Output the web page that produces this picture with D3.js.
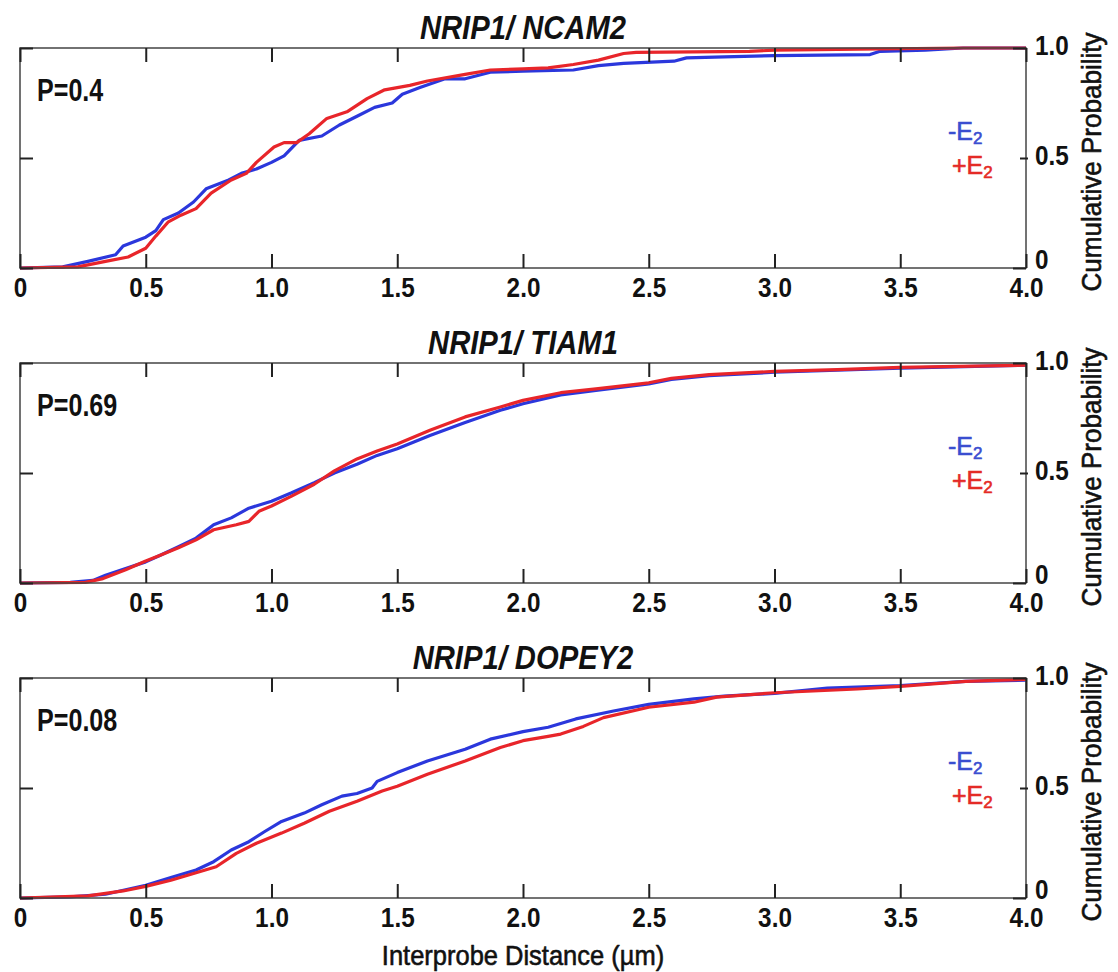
<!DOCTYPE html>
<html>
<head>
<meta charset="utf-8">
<script src="https://cdn.jsdelivr.net/npm/d3@7"></script>
<style>
  html, body { margin: 0; padding: 0; background: #fff; }
  svg { display: block; }
  text { font-family: "Liberation Sans", Arial, Helvetica, sans-serif; }
</style>
</head>
<body>
<svg id="chart" width="1118" height="972"></svg>
<script>
// ---- Data: cumulative probability of interprobe distance (µm) ----
const panelTitles = ["NRIP1/ NCAM2", "NRIP1/ TIAM1", "NRIP1/ DOPEY2"];
const pLabels = ["P=0.4", "P=0.69", "P=0.08"];
const xTickValues = [0, 0.5, 1.0, 1.5, 2.0, 2.5, 3.0, 3.5, 4.0];
const yTickValues = [0, 0.5, 1.0];
const seriesLabels = ["-E", "+E"];
const xAxisTitle = "Interprobe Distance (µm)";
const yAxisTitle = "Cumulative Probability";

// [distance, cumulative probability]
const ncam2Minus = [[0,0],[0.17,0.005],[0.27,0.03],[0.38,0.06],[0.41,0.10],[0.5,0.14],[0.54,0.17],[0.57,0.22],[0.63,0.25],[0.69,0.30],[0.74,0.36],[0.83,0.40],[0.88,0.43],[0.94,0.45],[1.0,0.48],[1.05,0.51],[1.11,0.58],[1.20,0.60],[1.27,0.65],[1.34,0.69],[1.41,0.73],[1.48,0.75],[1.52,0.79],[1.59,0.82],[1.69,0.86],[1.77,0.86],[1.87,0.89],[2.0,0.895],[2.2,0.90],[2.3,0.92],[2.4,0.93],[2.6,0.94],[2.65,0.955],[2.8,0.96],[3.0,0.965],[3.38,0.97],[3.42,0.985],[3.6,0.99],[3.75,1.0],[4.0,1.0]];
const ncam2Plus = [[0,0],[0.23,0.005],[0.34,0.03],[0.43,0.05],[0.5,0.09],[0.54,0.145],[0.59,0.21],[0.64,0.24],[0.70,0.27],[0.76,0.34],[0.84,0.40],[0.90,0.43],[0.94,0.48],[1.01,0.55],[1.05,0.57],[1.10,0.57],[1.15,0.61],[1.22,0.68],[1.30,0.71],[1.38,0.77],[1.45,0.81],[1.55,0.83],[1.62,0.85],[1.77,0.88],[1.87,0.90],[2.0,0.905],[2.1,0.91],[2.2,0.925],[2.3,0.945],[2.4,0.975],[2.45,0.98],[2.9,0.985],[3.0,0.99],[3.75,1.0],[4.0,1.0]];

const tiam1Minus = [[0,0],[0.2,0.003],[0.29,0.012],[0.34,0.035],[0.42,0.066],[0.5,0.096],[0.56,0.127],[0.63,0.165],[0.70,0.204],[0.77,0.265],[0.84,0.296],[0.91,0.34],[1.0,0.372],[1.08,0.41],[1.17,0.456],[1.25,0.50],[1.34,0.54],[1.42,0.58],[1.5,0.61],[1.63,0.67],[1.77,0.73],[1.91,0.785],[2.0,0.815],[2.15,0.855],[2.29,0.875],[2.5,0.905],[2.59,0.925],[2.74,0.942],[3.0,0.958],[3.25,0.967],[3.5,0.977],[4.0,0.99]];
const tiam1Plus = [[0,0],[0.26,0.003],[0.33,0.02],[0.42,0.06],[0.5,0.10],[0.56,0.127],[0.63,0.16],[0.70,0.196],[0.77,0.242],[0.86,0.265],[0.91,0.28],[0.95,0.326],[1.0,0.35],[1.08,0.395],[1.17,0.449],[1.25,0.51],[1.34,0.564],[1.42,0.60],[1.5,0.632],[1.63,0.694],[1.77,0.755],[1.91,0.80],[2.0,0.83],[2.15,0.865],[2.29,0.882],[2.5,0.91],[2.59,0.93],[2.74,0.947],[3.0,0.962],[3.25,0.97],[3.5,0.98],[4.0,0.99]];

const dopey2Minus = [[0,0],[0.2,0.005],[0.34,0.017],[0.5,0.058],[0.6,0.093],[0.70,0.127],[0.77,0.165],[0.84,0.218],[0.91,0.256],[0.97,0.30],[1.04,0.348],[1.13,0.386],[1.2,0.424],[1.28,0.463],[1.34,0.475],[1.40,0.50],[1.42,0.53],[1.5,0.57],[1.62,0.623],[1.77,0.676],[1.87,0.722],[2.0,0.756],[2.1,0.776],[2.21,0.814],[2.36,0.85],[2.5,0.88],[2.68,0.905],[2.8,0.918],[3.0,0.93],[3.21,0.954],[3.5,0.966],[3.76,0.985],[4.0,0.99]];
const dopey2Plus = [[0,0],[0.27,0.01],[0.41,0.032],[0.5,0.053],[0.6,0.081],[0.70,0.115],[0.78,0.142],[0.86,0.203],[0.94,0.249],[1.04,0.295],[1.13,0.34],[1.23,0.394],[1.34,0.44],[1.44,0.486],[1.5,0.508],[1.62,0.562],[1.77,0.623],[1.91,0.684],[2.0,0.715],[2.1,0.735],[2.15,0.745],[2.24,0.78],[2.32,0.82],[2.5,0.867],[2.68,0.89],[2.77,0.913],[3.0,0.933],[3.33,0.95],[3.5,0.962],[3.76,0.985],[4.0,0.994]];

const panels = [
  { title: panelTitles[0], p: pLabels[0], minus: ncam2Minus, plus: ncam2Plus },
  { title: panelTitles[1], p: pLabels[1], minus: tiam1Minus, plus: tiam1Plus },
  { title: panelTitles[2], p: pLabels[2], minus: dopey2Minus, plus: dopey2Plus }
];

// ---- Layout ----
const plotLeft = 20;
const W = 1006, H = 220;
const panelTops = [48, 363, 678];
const blue = "#2b37dc", red = "#e8252a";
const legendBlue = "#3a4ed0", legendRed = "#e42a26";

const svg = d3.select("#chart");
const x = d3.scaleLinear().domain([0, 4]).range([0, W]);
const y = d3.scaleLinear().domain([0, 1]).range([H, 0]);
const fmt = d => d === 0 ? "0" : d3.format(".1f")(d);
const line = d3.line().x(d => x(d[0])).y(d => y(d[1]));

// Horizontally condense text to a narrow face
function squeeze(sel, k) {
  sel.each(function () {
    const w = this.getComputedTextLength();
    this.setAttribute("textLength", (w * k).toFixed(1));
    this.setAttribute("lengthAdjust", "spacingAndGlyphs");
  });
}

// Give regular-weight text a slightly heavier (medium) look
function medium(sel, color) {
  sel.attr("stroke", color).attr("stroke-width", 0.6).attr("stroke-linejoin", "round");
}

function styleTicks(axisG) {
  axisG.select(".domain").remove();
  axisG.selectAll(".tick line").attr("stroke", "#222").attr("stroke-width", 2);
}

panels.forEach((panel, i) => {
  const g = svg.append("g").attr("transform", `translate(${plotLeft},${panelTops[i]})`);

  // curves
  g.append("path").datum(panel.minus).attr("d", line)
    .attr("fill", "none").attr("stroke", blue).attr("stroke-width", 3.2)
    .attr("stroke-linejoin", "round");
  g.append("path").datum(panel.plus).attr("d", line)
    .attr("fill", "none").attr("stroke", red).attr("stroke-width", 3.2)
    .attr("stroke-linejoin", "round");

  // frame
  g.append("rect").attr("x", 0).attr("y", 0).attr("width", W).attr("height", H)
    .attr("fill", "none").attr("stroke", "#444").attr("stroke-width", 1.5);

  // bottom axis with labels
  const bottom = g.append("g").attr("transform", `translate(0,${H})`)
    .call(d3.axisBottom(x).tickValues(xTickValues).tickSizeInner(-14).tickSizeOuter(0)
      .tickPadding(10).tickFormat(fmt));
  styleTicks(bottom);
  const bt = bottom.selectAll(".tick text")
    .attr("font-size", 27).attr("font-weight", "bold").attr("fill", "#111");
  squeeze(bt, 0.9);

  // top axis (ticks only)
  const top = g.append("g")
    .call(d3.axisTop(x).tickValues(xTickValues).tickSizeInner(-14).tickSizeOuter(0).tickFormat(""));
  styleTicks(top);

  // left axis (ticks only)
  const left = g.append("g")
    .call(d3.axisLeft(y).tickValues(yTickValues).tickSizeInner(-13).tickSizeOuter(0).tickFormat(""));
  styleTicks(left);

  // right axis with labels
  const right = g.append("g").attr("transform", `translate(${W},0)`)
    .call(d3.axisRight(y).tickValues(yTickValues).tickSizeInner(-13).tickSizeOuter(0)
      .tickPadding(9).tickFormat(fmt));
  styleTicks(right);
  right.selectAll(".tick line").filter(d => d === 0.5).attr("x1", 2).attr("x2", -6);
  const rt = right.selectAll(".tick text")
    .attr("font-size", 27).attr("font-weight", "bold").attr("fill", "#111")
    .attr("y", d => d === 0 ? -8 : -2);
  squeeze(rt, 0.9);

  // title
  const t = g.append("text").attr("x", W / 2).attr("y", -9)
    .attr("text-anchor", "middle").attr("font-size", 33)
    .attr("font-weight", "bold").attr("font-style", "italic").attr("fill", "#111")
    .text(panel.title);
  squeeze(t, 0.885);

  // P value
  const p = g.append("text").attr("x", 17).attr("y", 53)
    .attr("font-size", 31).attr("font-weight", "bold").attr("fill", "#111")
    .text(panel.p);
  squeeze(p, 0.81);

  // legend
  const legendRows = [
    { label: seriesLabels[0], color: legendBlue, dx: -78, dy: 92 },
    { label: seriesLabels[1], color: legendRed, dx: -74, dy: 126 }
  ];
  legendRows.forEach(r => {
    const lt = g.append("text").attr("x", W + r.dx).attr("y", r.dy)
      .attr("font-size", 25).attr("fill", r.color);
    lt.append("tspan").text(r.label);
    lt.append("tspan").attr("font-size", 17).attr("dy", 4).text("2");
    medium(lt, r.color);
  });

  // y axis title on the right
  const yt = g.append("text")
    .attr("transform", `translate(${W + 75},${H / 2 + 4}) rotate(-90)`)
    .attr("text-anchor", "middle").attr("font-size", 28).attr("fill", "#111")
    .text(yAxisTitle);
  squeeze(yt, 0.93);
  medium(yt, "#111");
});

// shared x axis title
const xt = svg.append("text")
  .attr("x", plotLeft + W / 2).attr("y", 965)
  .attr("text-anchor", "middle").attr("font-size", 28).attr("fill", "#111")
  .text(xAxisTitle);
squeeze(xt, 0.91);
medium(xt, "#111");
</script>
</body>
</html>
